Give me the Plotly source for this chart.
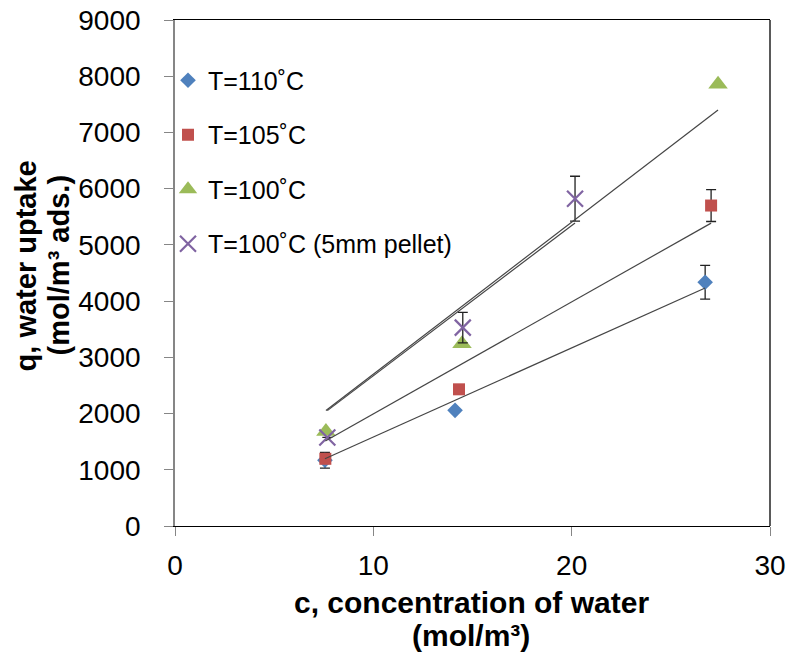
import plotly.graph_objects as go

FONT = "Arial, 'Liberation Sans', sans-serif"

# Water concentration c (mol/m³) and uptake q (mol/m³ ads.) per series
c_110 = [7.56, 14.12, 26.73]
q_110 = [1170, 2057, 4335]
err_110 = [140, 0, 300]

c_105 = [7.58, 14.32, 27.03]
q_105 = [1195, 2431, 5700]
err_105 = [0, 0, 284]

c_100 = [7.61, 14.47, 27.38]
q_100 = [1683, 3240, 7855]
err_100 = [0, 0, 0]

c_pellet = [7.68, 14.51, 20.17]
q_pellet = [1575, 3528, 5822]
err_pellet = [0, 271, 399]

series_names = ["T=110˚C", "T=105˚C", "T=100˚C", "T=100˚C (5mm pellet)"]
x_ticks = [0, 10, 20, 30]
y_ticks = [0, 1000, 2000, 3000, 4000, 5000, 6000, 7000, 8000, 9000]

W, H = 789, 653
M_L, M_R, M_T, M_B = 175, 19, 19.5, 127.3
plot_w = W - M_L - M_R
plot_h = H - M_T - M_B


def px_x(px):
    return (px - M_L) / plot_w


def px_y(py):
    return (H - M_B - py) / plot_h


styles = [
    dict(symbol="diamond", size=12, color="#4F81BD", line=dict(width=0)),
    dict(symbol="square", size=12, color="#C0504D", line=dict(width=0)),
    dict(symbol="triangle-up", size=17, color="#9BBB59", line=dict(width=0)),
    dict(symbol="x-thin", size=16, color="#8064A2",
         line=dict(width=2.2, color="#8064A2")),
]

data = [
    (c_110, q_110, err_110),
    (c_105, q_105, err_105),
    (c_100, q_100, err_100),
    (c_pellet, q_pellet, err_pellet),
]

fig = go.Figure()

for i, ((cx, qy, err), name, mk) in enumerate(zip(data, series_names, styles)):
    fig.add_trace(go.Scatter(
        x=cx, y=qy, mode="markers", name=name, marker=mk,
        legendgroup=f"g{i}",
        error_y=dict(type="data", array=err, visible=True,
                     color="#222222", thickness=1.3, width=5),
    ))

# Linear trendlines forced through the origin (q = k·c)
for cx, qy, _ in data:
    k = sum(a * b for a, b in zip(cx, qy)) / sum(a * a for a in cx)
    xs = [min(cx), max(cx)]
    fig.add_trace(go.Scatter(
        x=xs, y=[k * v for v in xs], mode="lines", showlegend=False,
        line=dict(color="#454545", width=1.2), hoverinfo="skip",
    ))

fig.update_layout(
    width=W, height=H,
    margin=dict(l=M_L, r=M_R, t=M_T, b=M_B, autoexpand=False),
    paper_bgcolor="white", plot_bgcolor="white",
    font=dict(family=FONT, color="black"),
    showlegend=True,
    legend=dict(
        x=px_x(168), y=px_y(57), xanchor="left", yanchor="top",
        font=dict(family=FONT, size=25, color="black"),
        bgcolor="rgba(0,0,0,0)", tracegroupgap=19,
    ),
    xaxis=dict(
        range=[0, 30], tickvals=x_ticks, showgrid=False, zeroline=False,
        showline=True, linecolor="black", linewidth=1.3, mirror=True,
        ticks="outside", ticklen=9, tickcolor="#868686", tickwidth=1.3,
        tickfont=dict(family=FONT, size=28, color="black"),
        ticklabelstandoff=5,
    ),
    yaxis=dict(
        range=[0, 9000], tickvals=y_ticks, showgrid=False, zeroline=False,
        showline=True, linecolor="#868686", linewidth=1.6,
        ticks="outside", ticklen=9, tickcolor="#868686", tickwidth=1.3,
        tickfont=dict(family=FONT, size=28, color="black"),
        ticklabelstandoff=18,
    ),
    shapes=[dict(type="line", xref="paper", yref="paper", x0=1, x1=1,
                 y0=0, y1=1, line=dict(color="black", width=1.3))],
)

annots = [
    dict(text="c, concentration of water", x=px_x(471), y=px_y(602), size=30),
    dict(text="(mol/m³)", x=px_x(471), y=px_y(635), size=30),
    dict(text="q, water uptake", x=px_x(26), y=px_y(266), size=29,
         textangle=-90),
    dict(text="(mol/m³ ads.)", x=px_x(59), y=px_y(265), size=29,
         textangle=-90),
]
for a in annots:
    size = a.pop("size")
    fig.add_annotation(xref="paper", yref="paper", showarrow=False,
                       xanchor="center", yanchor="middle",
                       font=dict(family=FONT, size=size, color="black",
                                 weight="bold"),
                       **a)

fig.write_html("out.html")
